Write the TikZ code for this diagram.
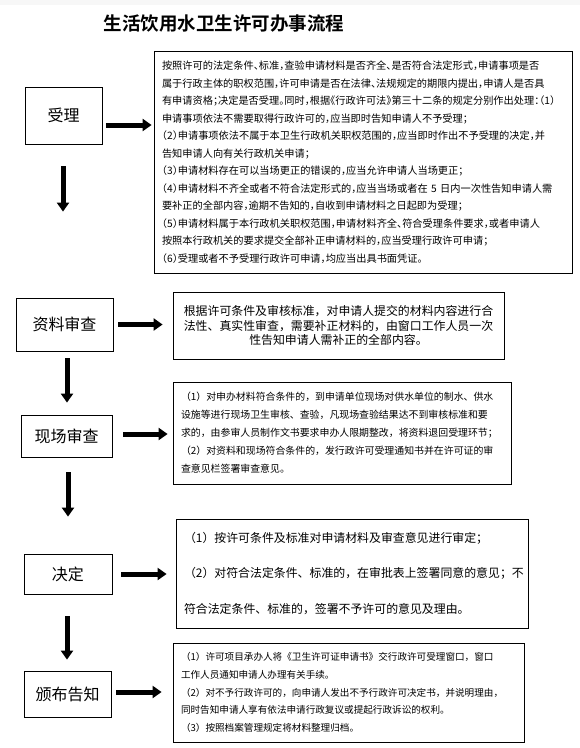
\documentclass[tikz,border=0pt]{standalone}
\usepackage{fontspec}
\setmainfont{Noto Sans CJK SC}[BoldFont={Noto Sans CJK SC Bold}]
\newfontfamily\cjkhalt[RawFeature={+halt}]{Noto Sans CJK SC}
\usetikzlibrary{arrows.meta}

\tikzset{
	stagebox/.style={draw, line width=0.8pt, font=\fontsize{16}{18}\selectfont},
	notebox/.style={draw, line width=0.8pt, align=left, inner ysep=0pt},
	fatarrow/.style={line width=5pt, -{Triangle[width=12pt,length=9pt]}},
}

\begin{document}
\begin{tikzpicture}[x=1pt, y=-1pt]
			% Fix the page
			\useasboundingbox (0,0) rectangle (580,748);
			\fill[gray!6] (0,0) rectangle (580,5);
			
			% Title
			\node[font=\bfseries\fontsize{18.5}{20}\selectfont] (title) at (224,24) {生活饮用水卫生许可办事流程};
			
			% Stages on the left
			\node[stagebox, minimum width=77pt, minimum height=57pt] (shouli) at (63.5,115.5) {受理};
			\node[stagebox, minimum width=97pt, minimum height=53pt] (ziliao) at (64.5,324.5) {资料审查};
			\node[stagebox, minimum width=91pt, minimum height=42pt] (xianchang) at (66.5,436) {现场审查};
			\node[stagebox, minimum width=88pt, minimum height=40pt] (jueding) at (68,574) {决定};
			\node[stagebox, minimum width=87pt, minimum height=46pt] (banbu) at (67.5,694) {颁布告知};
			
			% Notes on the right
			\node[notebox, minimum width=418pt, minimum height=222pt, text width=402pt, inner xsep=8pt,
				font=\cjkhalt\fontsize{10.2}{17.5}\selectfont] (r1) at (363,162) {%
				按照许可的法定条件、标准，查验申请材料是否齐全、是否符合法定形式，申请事项是否\\
				属于行政主体的职权范围，许可申请是否在法律、法规规定的期限内提出，申请人是否具\\
				有申请资格；决定是否受理。同时，根据《行政许可法》第三十二条的规定分别作出处理：（1）\\
				申请事项依法不需要取得行政许可的，应当即时告知申请人不予受理；\\
				（2）申请事项依法不属于本卫生行政机关职权范围的，应当即时作出不予受理的决定，并\\
				告知申请人向有关行政机关申请；\\
				（3）申请材料存在可以当场更正的错误的，应当允许申请人当场更正；\\
				（4）申请材料不齐全或者不符合法定形式的，应当当场或者在 5 日内一次性告知申请人需\\
				要补正的全部内容，逾期不告知的，自收到申请材料之日起即为受理；\\
				（5）申请材料属于本行政机关职权范围，申请材料齐全、符合受理条件要求，或者申请人\\
				按照本行政机关的要求提交全部补正申请材料的，应当受理行政许可申请；\\
				（6）受理或者不予受理行政许可申请，均应当出具书面凭证。};
			\node[notebox, align=center, minimum width=331pt, minimum height=67pt, text width=317pt, inner xsep=7pt,
				font=\fontsize{11.9}{14.5}\selectfont] (r2) at (338.5,325.5) {%
				根据许可条件及审核标准，对申请人提交的材料内容进行合\\
				法性、真实性审查，需要补正材料的，由窗口工作人员一次\\
				性告知申请人需补正的全部内容。};
			\node[notebox, minimum width=338pt, minimum height=102pt, text width=322pt, inner xsep=8pt,
				font=\fontsize{9.9}{18}\selectfont] (r3) at (342,433) {%
				（1）对申办材料符合条件的，到申请单位现场对供水单位的制水、供水\\
				设施等进行现场卫生审核、查验，凡现场查验结果达不到审核标准和要\\
				求的，由参审人员制作文书要求申办人限期整改，将资料退回受理环节；\\
				（2）对资料和现场符合条件的，发行政许可受理通知书并在许可证的审\\
				查意见栏签署审查意见。};
			\node[notebox, minimum width=352pt, minimum height=109pt, text width=336pt, inner xsep=8pt,
				font=\fontsize{11.9}{35.5}\selectfont] (r4) at (352,573.5) {%
				（1）按许可条件及标准对申请材料及审查意见进行审定；\\
				（2）对符合法定条件、标准的，在审批表上签署同意的意见；不\\
				符合法定条件、标准的，签署不予许可的意见及理由。};
			\node[notebox, minimum width=351pt, minimum height=99pt, text width=335pt, inner xsep=8pt,
				font=\fontsize{9.6}{17.7}\selectfont] (r5) at (348.5,692.5) {%
				（1）许可项目承办人将《卫生许可证申请书》交行政许可受理窗口，窗口\\
				工作人员通知申请人办理有关手续。\\
				（2）对不予行政许可的，向申请人发出不予行政许可决定书，并说明理由，\\
				同时告知申请人享有依法申请行政复议或提起行政诉讼的权利。\\
				（3）按照档案管理规定将材料整理归档。};
			
			% Arrows to the notes
			\foreach \a/\b/\s/\e/\dy in {shouli/r1/4pt/2pt/-9.5pt, ziliao/r2/5pt/10pt/0pt, xianchang/r3/11pt/5pt/2pt,
				jueding/r4/9pt/9pt/0pt, banbu/r5/5pt/11pt/2pt} {
				\draw[fatarrow, shorten <=\s, shorten >=\e] ([yshift=\dy]\a.east) -- ([yshift=\dy]\a.east -| \b.west);
			}
			
			% Arrows down the stages
			\foreach \a/\b/\s/\e/\dx in {shouli/ziliao/22pt/86pt/-0.5pt, ziliao/xianchang/7pt/12pt/2.5pt,
				xianchang/jueding/15pt/37pt/1.5pt, jueding/banbu/22pt/11pt/-1pt} {
				\draw[fatarrow, shorten <=\s, shorten >=\e] ([xshift=\dx]\a.south) -- ([xshift=\dx]\a.south |- \b.north);
			}
		\end{tikzpicture}
\end{document}
